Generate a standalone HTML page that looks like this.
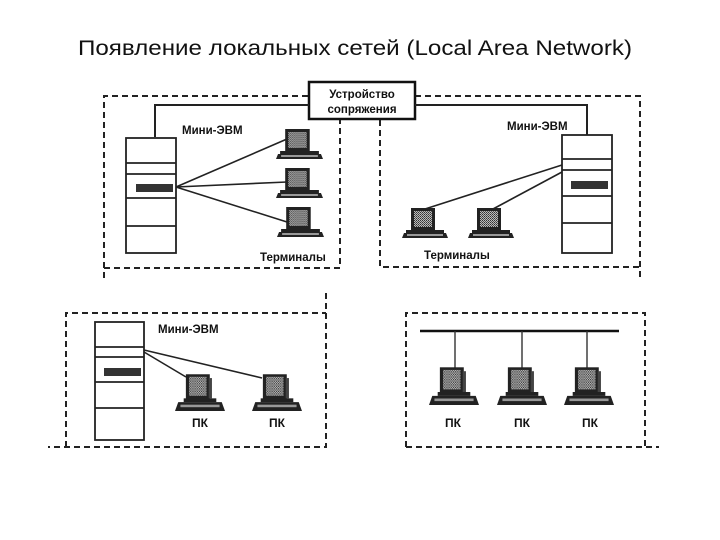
<!DOCTYPE html>
<html><head><meta charset="utf-8"><style>
html,body{margin:0;padding:0;background:#fff;}
svg{display:block;}
text{font-family:"Liberation Sans",Arial,sans-serif;fill:#111;}
</style></head><body>
<svg width="720" height="540" viewBox="0 0 720 540" xmlns="http://www.w3.org/2000/svg">
<defs>
<pattern id="dots" width="2" height="2" patternUnits="userSpaceOnUse">
<rect width="2" height="2" fill="#bbb"/><rect width="1" height="1" fill="#333"/><rect x="1" y="1" width="1" height="1" fill="#555"/>
</pattern>
<symbol id="pc" viewBox="0 0 46 30" preserveAspectRatio="none">
<rect x="10" y="1" width="22" height="20" fill="#222"/>
<rect x="13" y="3" width="16" height="15" fill="url(#dots)"/>
<rect x="31" y="4" width="3" height="16" fill="#444"/>
<rect x="8" y="20" width="30" height="3" fill="#222"/>
<polygon points="3,23 43,23 46,30 0,30" fill="#222"/>
<rect x="5" y="25" width="36" height="2" fill="#999"/>
</symbol>
<symbol id="term" viewBox="0 0 46 30" preserveAspectRatio="none">
<rect x="9" y="0" width="24" height="22" fill="#222"/>
<rect x="12" y="3" width="18" height="16" fill="url(#dots)"/>
<rect x="4" y="22" width="38" height="3" fill="#222"/>
<polygon points="2,25 44,25 46,30 0,30" fill="#222"/>
<rect x="5" y="26" width="36" height="2" fill="#999"/>
</symbol>
</defs>

<text x="78" y="55" font-size="21" textLength="554" lengthAdjust="spacingAndGlyphs" fill="#000">Появление локальных сетей (Local Area Network)</text>

<g fill="none" stroke="#222" stroke-width="2" stroke-dasharray="6,4">
<polyline points="308,96 104,96 104,280"/>
<polyline points="104,268 340,268 340,120"/>
<polyline points="415,96 640,96 640,280"/>
<polyline points="380,120 380,267 640,267"/>
<polyline points="66,447 66,313 326,313"/>
<polyline points="326,293 326,447 48,447"/>
<polyline points="406,447 406,313 645,313 645,447"/>
<polyline points="406,447 659,447"/>
</g>

<rect x="309" y="82" width="106" height="37" fill="#fff" stroke="#111" stroke-width="2.5"/>
<text x="362" y="98" font-size="11.5" font-weight="bold" text-anchor="middle">Устройство</text>
<text x="362" y="113" font-size="11.5" font-weight="bold" text-anchor="middle">сопряжения</text>
<polyline points="155,137 155,105 309,105" fill="none" stroke="#222" stroke-width="2"/>
<polyline points="415,105 587,105 587,135" fill="none" stroke="#222" stroke-width="2"/>

<g fill="none" stroke="#222" stroke-width="1.8">
<rect x="126" y="138" width="50" height="115" fill="#fff"/>
<line x1="126" y1="163" x2="176" y2="163"/><line x1="126" y1="174" x2="176" y2="174"/>
<line x1="126" y1="198" x2="176" y2="198"/><line x1="126" y1="226" x2="176" y2="226"/>
</g>
<rect x="136" y="184" width="37" height="8" fill="#333"/>
<g stroke="#222" stroke-width="1.6">
<line x1="176" y1="187" x2="287" y2="139"/>
<line x1="176" y1="187" x2="287" y2="182"/>
<line x1="176" y1="187" x2="287" y2="222"/>
</g>
<use href="#term" x="276" y="129" width="47" height="30"/>
<use href="#term" x="276" y="168" width="47" height="30"/>
<use href="#term" x="277" y="207" width="47" height="30"/>
<text x="182" y="134" font-size="11.5" font-weight="bold">Мини-ЭВМ</text>
<text x="260" y="261" font-size="11.5" font-weight="bold">Терминалы</text>

<g fill="none" stroke="#222" stroke-width="1.8">
<rect x="562" y="135" width="50" height="118" fill="#fff"/>
<line x1="562" y1="159" x2="612" y2="159"/><line x1="562" y1="170" x2="612" y2="170"/>
<line x1="562" y1="196" x2="612" y2="196"/><line x1="562" y1="223" x2="612" y2="223"/>
</g>
<rect x="571" y="181" width="37" height="8" fill="#333"/>
<g stroke="#222" stroke-width="1.6">
<line x1="562" y1="165" x2="425" y2="209"/>
<line x1="562" y1="172" x2="493" y2="209"/>
</g>
<use href="#term" x="402" y="208" width="46" height="30"/>
<use href="#term" x="468" y="208" width="46" height="30"/>
<text x="507" y="130" font-size="11.5" font-weight="bold">Мини-ЭВМ</text>
<text x="424" y="259" font-size="11.5" font-weight="bold">Терминалы</text>

<g fill="none" stroke="#222" stroke-width="1.8">
<rect x="95" y="322" width="49" height="118" fill="#fff"/>
<line x1="95" y1="347" x2="144" y2="347"/><line x1="95" y1="357" x2="144" y2="357"/>
<line x1="95" y1="382" x2="144" y2="382"/><line x1="95" y1="408" x2="144" y2="408"/>
</g>
<rect x="104" y="368" width="37" height="8" fill="#333"/>
<g stroke="#222" stroke-width="1.6">
<line x1="144" y1="352" x2="186" y2="377"/>
<line x1="144" y1="350" x2="262" y2="378"/>
</g>
<use href="#pc" x="175" y="373" width="50" height="38"/>
<use href="#pc" x="252" y="373" width="50" height="38"/>
<text x="158" y="333" font-size="11.5" font-weight="bold">Мини-ЭВМ</text>
<text x="200" y="427" font-size="12" font-weight="bold" text-anchor="middle">ПК</text>
<text x="277" y="427" font-size="12" font-weight="bold" text-anchor="middle">ПК</text>

<line x1="420" y1="331" x2="619" y2="331" stroke="#111" stroke-width="2.5"/>
<g stroke="#333" stroke-width="1.4">
<line x1="455" y1="331" x2="455" y2="368"/>
<line x1="522" y1="331" x2="522" y2="368"/>
<line x1="587" y1="331" x2="587" y2="368"/>
</g>
<use href="#pc" x="429" y="366" width="50" height="39"/>
<use href="#pc" x="497" y="366" width="50" height="39"/>
<use href="#pc" x="564" y="366" width="50" height="39"/>
<text x="453" y="427" font-size="12" font-weight="bold" text-anchor="middle">ПК</text>
<text x="522" y="427" font-size="12" font-weight="bold" text-anchor="middle">ПК</text>
<text x="590" y="427" font-size="12" font-weight="bold" text-anchor="middle">ПК</text>
</svg>
</body></html>
